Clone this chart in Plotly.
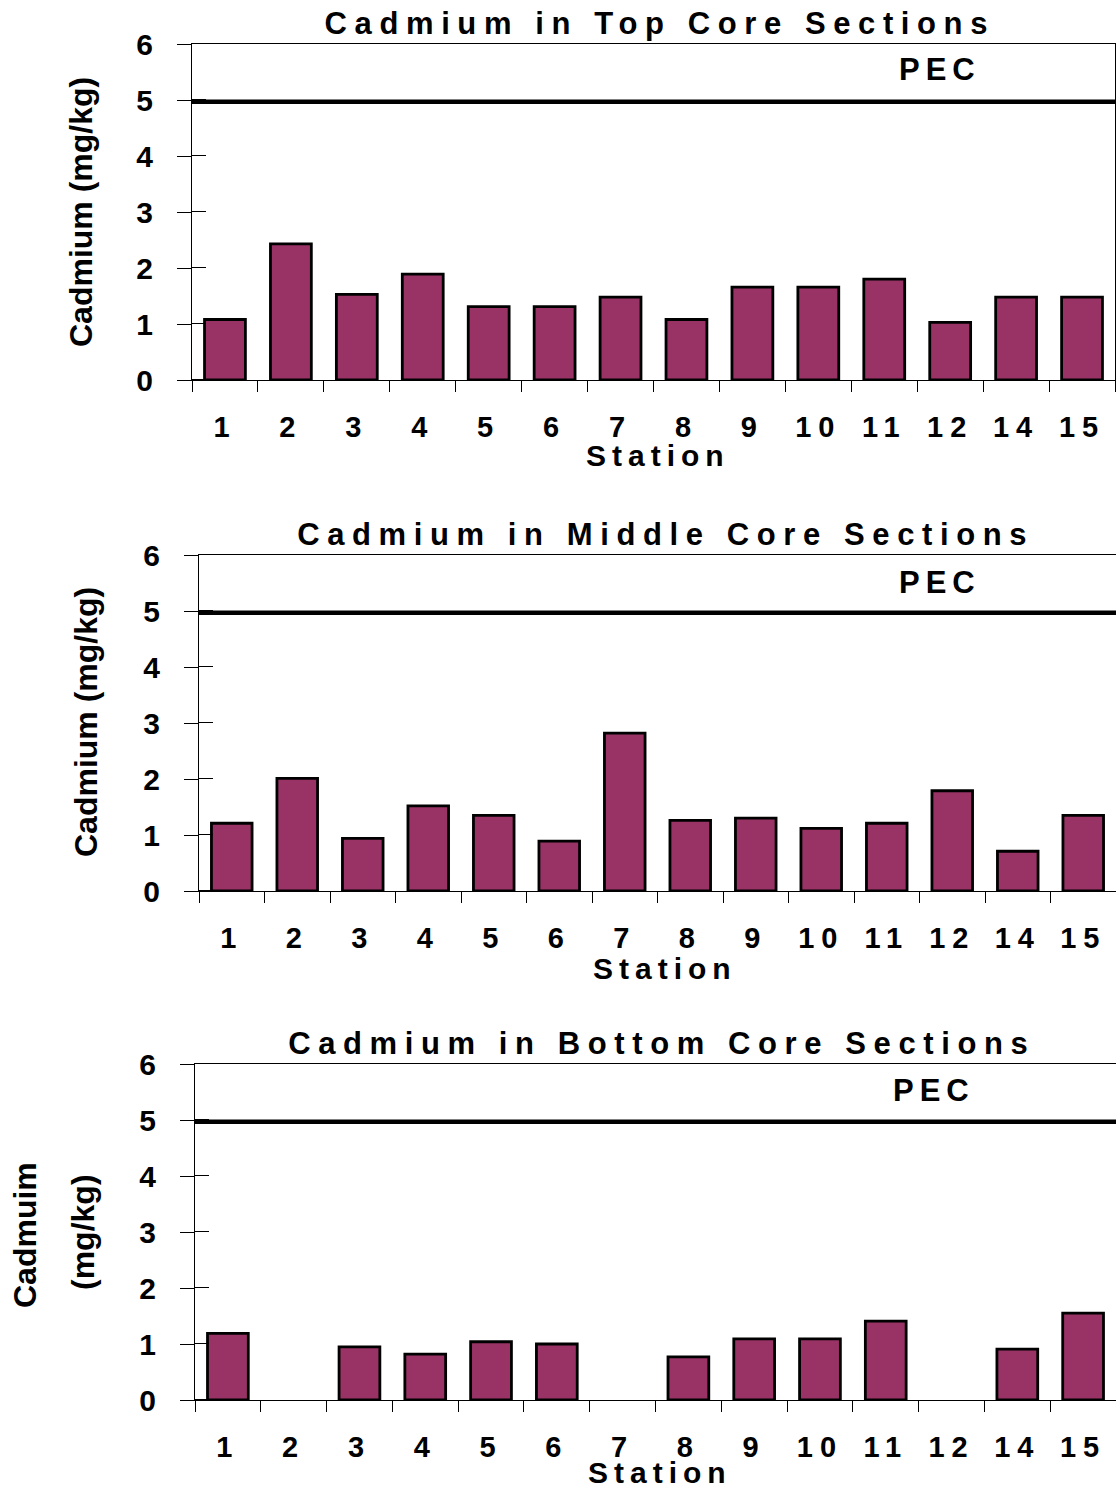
import plotly.graph_objects as go

stations = ["1", "2", "3", "4", "5", "6", "7", "8", "9", "10", "11", "12", "14", "15"]
top_cd = [1.08, 2.43, 1.53, 1.89, 1.31, 1.31, 1.48, 1.08, 1.66, 1.66, 1.80, 1.03, 1.48, 1.48]
middle_cd = [1.21, 2.01, 0.94, 1.52, 1.35, 0.89, 2.82, 1.26, 1.30, 1.12, 1.21, 1.79, 0.71, 1.35]
bottom_cd = [1.19, None, 0.95, 0.82, 1.04, 1.00, None, 0.77, 1.09, 1.09, 1.41, None, 0.91, 1.55]
pec_value = 4.97
y_ticks = [0, 1, 2, 3, 4, 5, 6]
panel_titles = ["Cadmium in Top Core Sections",
                "Cadmium in Middle Core Sections",
                "Cadmium in Bottom Core Sections"]
x_title = "Station"
pec_label = "PEC"

W, H = 1116, 1488
FONT = "Liberation Sans, Arial, sans-serif"
BAR_COLOR = "#993366"

# pixel layout of each panel: left, right, top, bottom
panels = [
    dict(l=192, r=1115, t=44, b=380, title_x=660, title_y=23, st_x=658, st_y=455, pec_x=940,
         pec_y=70, mirror_y=True),
    dict(l=199, r=1116, t=555, b=891, title_x=665, title_y=534, st_x=665, st_y=968, pec_x=940,
         pec_y=582, mirror_y=False),
    dict(l=195, r=1116, t=1064, b=1400, title_x=662, title_y=1043, st_x=660, st_y=1472,
         pec_x=934, pec_y=1090, mirror_y=False),
]
series = [top_cd, middle_cd, bottom_cd]


def px_x(v):
    return v / W


def px_y(v):
    return 1 - v / H


fig = go.Figure()
annotations = []
shapes = []

for i, (p, vals) in enumerate(zip(panels, series)):
    n = "" if i == 0 else str(i + 1)
    xa, ya = "x" + n, "y" + n
    fig.add_trace(go.Bar(
        x=stations, y=vals, xaxis=xa, yaxis=ya,
        marker=dict(color=BAR_COLOR, line=dict(color="black", width=2.8)),
        showlegend=False, hoverinfo="x+y",
    ))
    fig.update_layout({
        "xaxis" + n: dict(
            domain=[px_x(p["l"]), px_x(p["r"])], anchor=ya, type="category",
            categoryorder="array", categoryarray=stations, automargin=False,
            tickson="boundaries", ticks="outside", ticklen=11, tickwidth=1, tickcolor="black",
            showline=True, linecolor="black", linewidth=1, mirror=True,
            showgrid=False, zeroline=False, ticklabelstandoff=21,
            tickfont=dict(family=FONT, size=29, color="black", weight="bold"),
            fixedrange=True,
        ),
        "yaxis" + n: dict(
            domain=[px_y(p["b"]), px_y(p["t"])], anchor=xa, range=[0, 6], automargin=False,
            tickmode="array", tickvals=y_ticks, ticks="outside", ticklen=14, tickwidth=1,
            tickcolor="black",
            minor=dict(tickmode="array", tickvals=[v + 0.004 for v in y_ticks], ticks="inside",
                       ticklen=14, tickwidth=1, tickcolor="black"),
            showline=True, linecolor="black", linewidth=1, mirror=p["mirror_y"],
            showgrid=False, zeroline=False, ticklabelstandoff=18,
            tickfont=dict(family=FONT, size=30, color="black", weight="bold"),
            fixedrange=True,
        ),
    })
    shapes.append(dict(type="line", xref=xa + " domain", yref=ya, x0=0, x1=1,
                       y0=pec_value, y1=pec_value, line=dict(color="black", width=4.5)))
    annotations.append(dict(text=panel_titles[i], xref="paper", yref="paper",
                            x=px_x(p["title_x"]), y=px_y(p["title_y"]), xanchor="center",
                            yanchor="middle", showarrow=False,
                            font=dict(family=FONT, size=31, color="black", weight="bold")))
    annotations.append(dict(text=x_title, xref="paper", yref="paper",
                            x=px_x(p["st_x"]), y=px_y(p["st_y"]),
                            xanchor="center", yanchor="middle", showarrow=False,
                            font=dict(family=FONT, size=30, color="black", weight="bold")))
    annotations.append(dict(text=pec_label, xref="paper", yref="paper",
                            x=px_x(p["pec_x"]), y=px_y(p["pec_y"]), xanchor="center",
                            yanchor="middle", showarrow=False,
                            font=dict(family=FONT, size=31, color="black", weight="bold")))

# y axis titles
ytitle_font = dict(family=FONT, size=32, color="black", weight="bold")
annotations.append(dict(text="Cadmium (mg/kg)", xref="paper", yref="paper",
                        x=px_x(81), y=px_y(212), xanchor="center", yanchor="middle",
                        textangle=-90, showarrow=False, font=ytitle_font))
annotations.append(dict(text="Cadmium (mg/kg)", xref="paper", yref="paper",
                        x=px_x(86), y=px_y(722), xanchor="center", yanchor="middle",
                        textangle=-90, showarrow=False, font=ytitle_font))
annotations.append(dict(text="Cadmuim", xref="paper", yref="paper",
                        x=px_x(25), y=px_y(1235), xanchor="center", yanchor="middle",
                        textangle=-90, showarrow=False, font=ytitle_font))
annotations.append(dict(text="(mg/kg)", xref="paper", yref="paper",
                        x=px_x(83), y=px_y(1232), xanchor="center", yanchor="middle",
                        textangle=-90, showarrow=False, font=ytitle_font))

fig.update_layout(
    template="none",
    width=W, height=H, autosize=False,
    margin=dict(l=0, r=0, t=0, b=0, pad=0),
    paper_bgcolor="white", plot_bgcolor="white",
    bargap=0.38, showlegend=False,
    font=dict(family=FONT, color="black"),
    annotations=annotations, shapes=shapes,
)

post_js = """
document.body.style.margin = '0';
document.body.style.padding = '0';
var gd = document.getElementById('{plot_id}');
function spaceIt(){
  gd.querySelectorAll('text.annotation-text').forEach(function(t){
    var s = t.textContent;
    if (s.indexOf('Cadmium (') === 0 || s === 'Cadmuim' || s.indexOf('(mg') === 0) return;
    t.style.letterSpacing = (s.length > 10) ? '7.6px' : '6px';
  });
  gd.querySelectorAll('.xaxislayer-above text').forEach(function(t){ t.style.letterSpacing = '7px'; });
}
spaceIt();
if (gd.on) { gd.on('plotly_afterplot', spaceIt); }
"""

fig.write_html("out.html", config={"displayModeBar": False}, post_script=post_js)
